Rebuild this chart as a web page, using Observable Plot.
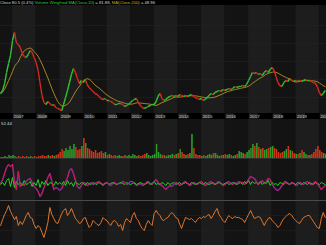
<!DOCTYPE html>
<html><head><meta charset="utf-8">
<script src="https://cdn.jsdelivr.net/npm/d3@7"></script>
<script src="https://cdn.jsdelivr.net/npm/@observablehq/plot@0.6"></script>
<style>
html,body{margin:0;padding:0;background:#000;width:326px;height:245px;overflow:hidden}
#hdr{height:5px;line-height:5px;font-family:"Liberation Sans",Arial,sans-serif;font-size:4.2px;color:#ddd;white-space:nowrap;background:#000}
svg{display:block}
.sep1{height:1px;background:#2e2e2e}
.sep2{height:1px;background:#4a4a4a}
</style></head><body>
<div id="hdr"></div>
<div id="c1"></div><div id="c2"></div><div id="c3"></div><div class="sep1"></div><div id="c4"></div><div class="sep2"></div><div id="c5"></div>
<script>
// ---- data (monthly, Jul 2006 – Apr 2020) ----
const close = [20,23,30,41,50,58,73,81,71,69,
66,60,57,56,59,63,61,56,51,43,
31,18,11,9,12,10,8,9,6,5,
4,3,9,16,23,31,39,45,41,35,
30,33,31,34,29,26,24,22,20,19,
17,15,14,15,13,13,12,11,9,9,
10,10,9,7,8,9,11,13,14,15,11,
8,6,5,6,7,8,9,9,12,17,
20,15,13,14,16,17,18,17,18,17,
19,18,17,18,17,18,19,17,16,15,
14,15,13,14,16,18,20,19,21,22,
23,22,24,23,24,25,24,25,27,26,
27,27,28,27,29,33,37,41,40,41,39,
40,38,41,43,41,44,46,43,37,31,
28,27,31,33,32,35,33,32,33,32,
33,32,33,34,33,33,32,31,30,27,
21,18,20,23];
const volume = [1,1,2,1,3,2,3,2,1,2,
1,2,1,2,1,2,1,2,1,2,
2,3,2,2,3,2,3,2,3,4,
6,9,7,10,8,12,9,14,11,8,
9,12,20,15,10,9,7,6,8,5,
6,7,5,6,3,4,3,2,3,2,
3,2,2,3,2,3,2,4,3,2,3,
2,3,4,5,3,2,3,4,14,6,
4,3,3,2,3,3,4,3,4,5,
9,6,4,3,4,5,24,10,4,3,
3,2,3,2,3,4,3,5,5,3,
2,3,3,4,3,4,3,2,3,4,
7,6,5,4,6,8,10,14,12,15,11,
9,10,8,9,10,11,12,10,9,6,
5,6,7,9,12,8,7,5,4,4,
5,8,6,4,3,3,4,6,9,12,
8,6,5,4];
const oscRed = [0,4,10,16,19,17,19,2,-6,12,
-3,0,-2,2,4,5,1,-3,-5,-8,
-13,-10,-4,0,6,10,2,-6,-4,-5,
-7,-5,-1,2,6,13,15,10,3,-3,
-5,-2,1,0,-2,-1,1,-1,0,1,
2,0,-2,0,1,-1,-2,0,1,-1,
0,0,2,1,-1,0,2,2,0,-2,-1,
0,-2,-1,1,2,0,-1,2,4,1,
-1,-2,-4,-6,-4,-2,-3,-1,1,0,
-2,-1,1,2,0,-2,-1,1,0,-1,
1,2,0,-2,-1,1,2,0,-1,1,
2,0,-2,-1,1,2,0,-1,1,0,
2,1,1,-1,1,4,7,6,5,2,-1,
1,3,0,2,5,4,-1,-4,-6,-7,
-5,-2,1,2,0,-1,1,0,-2,-1,
1,0,-1,1,2,0,-1,0,2,0,
-3,-6,-4,-2];
const oscGreen = [-1,1,-2,3,5,-3,6,-4,2,-1,
1,-2,3,-1,0,2,-3,1,-2,4,
-4,2,-1,3,-2,1,0,-2,2,-1,
1,-1,2,-2,3,-1,1,-3,2,0,
-1,1,0,-2,1,0,-1,1,0,-1,
1,0,-1,0,1,-1,0,1,0,-1,
0,1,0,-1,1,0,-1,0,1,-1,0,
1,0,-1,0,1,-1,0,2,-1,0,
-1,1,0,-2,1,-1,0,1,-1,0,
1,-1,0,1,0,-1,1,0,-1,0,
1,0,-1,1,0,-1,0,1,-1,0,
1,0,-1,0,1,-1,0,1,0,-1,
0,1,-1,2,0,3,-1,2,0,1,-1,
2,-1,1,0,3,-2,1,-1,0,-2,
1,0,-1,1,0,-1,1,0,-1,1,
0,-1,1,0,-1,1,0,-1,1,0,
-1,1,0,-1];
const oscOrange = [-3,3,8,12,17,11,7,3,6,-3,
1,-2,2,7,10,5,4,-2,-6,-3,
-5,-10,-15,-8,0,15,8,4,0,-1,
4,9,12,14,7,10,14,9,4,2,
-1,0,4,5,0,-5,-3,2,0,-2,
-3,0,5,3,2,-1,-3,1,2,0,
-4,-2,-8,0,4,2,0,7,10,4,2,
-3,-6,-8,-2,2,-1,-3,9,12,9,
7,3,2,4,5,8,10,8,5,4,
-2,-6,0,5,4,3,4,2,0,3,
5,4,6,5,7,8,4,7,11,14,
8,5,2,0,4,7,5,4,6,5,
5,4,3,0,4,8,12,8,4,5,6,
5,1,-3,1,4,5,2,0,-2,-5,
-3,1,4,6,8,9,7,4,2,0,
-1,2,5,6,7,7,4,1,-2,-5,
-6,4,10,5];
const yearLabels = ["2007","2008","2009","2010","2011","2012","2013","2014","2015","2016","2017","2018","2019","2020"];
const headerParts = [["Close 80.5 (0.4%) ","#d8d8d8"],["Volume Weighted MA(Close,20)","#2fd02f"],[" = 81.88, ","#d8d8d8"],["MA(Close,200)","#d4a81c"],[" = 48.96","#d8d8d8"]];
const volumeMaxLabel = ["52.44"];

// ---- build ----
document.getElementById("hdr").innerHTML = headerParts.map(([t,c]) => `<span style="color:${c}">${t}</span>`).join("");
const start = new Date(Date.UTC(2006,6,1));
const data = close.map((c,i) => ({
  date: d3.utcMonth.offset(start, i),
  prevDate: d3.utcMonth.offset(start, Math.max(0,i-1)),
  close: c, prev: close[Math.max(0,i-1)],
  up: c >= close[Math.max(0,i-1)],
  vol: volume[i], red: oscRed[i], green: oscGreen[i], orange: oscOrange[i]
}));
const xDomain = [new Date(Date.UTC(2006,5,29)), new Date(Date.UTC(2020,3,21))];
const years = d3.utcYears(new Date(Date.UTC(2006,0,1)), new Date(Date.UTC(2021,0,1)));
const bands = [
  Plot.rect(years.filter(d => d.getUTCFullYear()%2===1), {x1: d=>d, x2: d=>d3.utcYear.offset(d,1), fill:"#1d1d1d"}),
  Plot.rect(years.filter(d => d.getUTCFullYear()%2===0), {x1: d=>d, x2: d=>d3.utcYear.offset(d,1), fill:"#131313"})
];
function panel(id, h, yDomain, marks) {
  const p = Plot.plot({width:326, height:h, margin:0, x:{type:"utc", domain:xDomain, axis:null}, y:{domain:yDomain, axis:null},
    style:{background:"#131313", fontFamily:"Liberation Sans, Arial, sans-serif"}, marks:[...bands, ...marks]});
  document.getElementById(id).appendChild(p);
}
// price
panel("c1", 108, [0,108], [
  Plot.ruleY([16,34,52,70,88], {stroke:"#232323", strokeWidth:0.6}),
  Plot.lineY(data, Plot.windowY({k:10, anchor:"end"}, {x:"date", y:"close", stroke:"#c9a227", strokeWidth:0.8})),
  Plot.link(data, {x1:"prevDate", y1:"prev", x2:"date", y2:"close", stroke: d => d.up ? "#2fc42f" : "#d42a1e", strokeWidth:1.4})
]);
// year strip
{
  const labelYears = years.filter(d => d.getUTCFullYear() >= 2007);
  const p = Plot.plot({width:326, height:6, margin:0, x:{type:"utc", domain:xDomain, axis:null}, y:{domain:[0,6], axis:null},
    style:{background:"#000", fontFamily:"Liberation Sans, Arial, sans-serif"},
    marks:[
      Plot.rect(labelYears, {x1: d=>d3.utcDay.offset(d,15), x2: d=>d3.utcMonth.offset(d,5), y1:0.5, y2:5.5, fill:"#2a2a2a"}),
      Plot.text(labelYears, {x: d=>d3.utcDay.offset(d,20), y:3, text:(d,i)=>yearLabels[i], textAnchor:"start", fontSize:4.4, fill:"#d0d0d0"})
    ]});
  document.getElementById("c2").appendChild(p);
}
// volume
panel("c3", 39, [0,39], [
  Plot.rectY(data, {x:"date", interval:d3.utcMonth, y:"vol", fill: d => d.up ? "#2e9a2a" : "#cf3416", insetLeft:0.2, insetRight:0.2}),
  Plot.text(volumeMaxLabel, {frameAnchor:"top-left", dx:0.5, dy:2.5, text:d=>d, fontSize:4.4, fill:"#d8d8d8", textAnchor:"start"})
]);
// indicator
panel("c4", 41, [-17,24], [
  Plot.lineY(data, {x:"date", y:"red", stroke:"#6a30a0", strokeWidth:1.6, strokeOpacity:0.8}),
  Plot.lineY(data, {x:"date", y:"green", stroke:"#22d422", strokeWidth:1}),
  Plot.lineY(data, {x:"date", y:"red", stroke:"#d8185a", strokeWidth:1})
]);
// orange
panel("c5", 44, [-23,21], [
  Plot.ruleY([-8,7], {stroke:"#222", strokeWidth:0.6}),
  Plot.lineY(data, {x:"date", y:"orange", stroke:"#e0772c", strokeWidth:1})
]);
</script>
</body></html>
